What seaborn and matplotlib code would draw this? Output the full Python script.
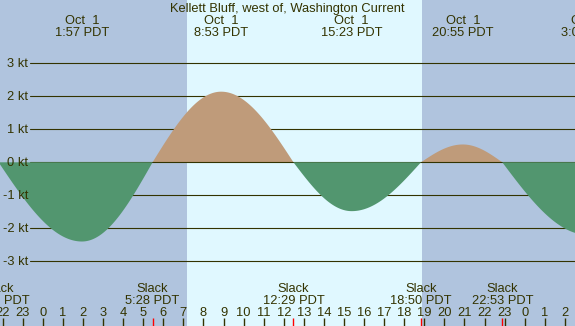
import numpy as np
import seaborn as sns
import matplotlib
matplotlib.use("Agg")
import matplotlib.pyplot as plt
import matplotlib.transforms as mtransforms

# tide events (day offset relative to Oct 1)
event_times = ["21:48", "1:57", "5:28", "8:53", "12:29", "15:23", "18:50", "20:55", "22:53", "3:09"]
event_days = [-1, 0, 0, 0, 0, 0, 0, 0, 0, 1]
event_dates = ["Sep 30", "Oct  1", "Oct  1", "Oct  1", "Oct  1", "Oct  1", "Oct  1", "Oct  1", "Oct  1", "Oct  2"]
event_speeds = [0.0, -2.40, 0.0, 2.14, 0.0, -1.48, 0.0, 0.54, 0.0, -2.20]
sunrise = "7:10"
sunset = "18:53"
speed_levels = [3, 2, 1, 0, -1, -2, -3]
title = "Kellett Bluff, west of, Washington Current"

W, H = 575, 326
x0_px, px_per_hour = 42.8, 20.08
y0_px, px_per_kt = 162.3, 33.0

night_col = "#b0c4de"
day_col = "#e0f8ff"
flood_col = "#bf9b7a"
ebb_col = "#52966f"
ink = "#333300"


def to_hours(s, day=0):
    h, m = s.split(":")
    return day * 24 + int(h) + int(m) / 60


ev_h = np.array([to_hours(s, d) for s, d in zip(event_times, event_days)])
ev_v = np.array(event_speeds)

sns.set_theme(style="white")
plt.rcParams["font.family"] = ["Liberation Sans", "DejaVu Sans"]
plt.rcParams["font.size"] = 9.3

fig = plt.figure(figsize=(W / 100, H / 100), dpi=100, facecolor=night_col)
ax = fig.add_axes([0, 0, 1, 1])
ax.set_facecolor(night_col)
xmin = -x0_px / px_per_hour
xmax = (W - x0_px) / px_per_hour
ymax = y0_px / px_per_kt
ymin = -(H - y0_px) / px_per_kt
ax.set_xlim(xmin, xmax)
ax.set_ylim(ymin, ymax)
ax.axis("off")

# daylight band
ax.axvspan(to_hours(sunrise), to_hours(sunset), color=day_col, lw=0, zorder=0)

# speed grid lines
ylab_tr = mtransforms.blended_transform_factory(ax.transAxes, ax.transData)
for lv in speed_levels:
    ax.axhline(lv, xmin=30 / W, xmax=1, color=ink, lw=0.8, zorder=1 if lv != 0 else 2.5)
    ax.text(28 / W, lv - 4 / px_per_kt, f"{lv} kt", transform=ylab_tr,
            ha="right", va="baseline", color=ink, zorder=5)

# current curve: quarter-sine shape between slack and max
t = np.linspace(xmin, xmax, 1500)
v = np.zeros_like(t)
for i in range(len(ev_h) - 1):
    a, b = ev_h[i], ev_h[i + 1]
    m = (t >= a) & (t <= b)
    f = (t[m] - a) / (b - a)
    if ev_v[i] == 0:
        v[m] = ev_v[i + 1] * np.sin(np.pi / 2 * f)
    else:
        v[m] = ev_v[i] * np.cos(np.pi / 2 * f)
ax.fill_between(t, 0, v, where=v >= 0, color=flood_col, lw=0, zorder=2, interpolate=True)
ax.fill_between(t, 0, v, where=v <= 0, color=ebb_col, lw=0, zorder=3, interpolate=True)

tr = mtransforms.blended_transform_factory(ax.transData, ax.transAxes)


def yf(py):
    return 1 - py / H


ax.text(0.5, yf(12), title, transform=ax.transAxes, ha="center", va="baseline", color=ink, zorder=5)

# event labels
for h, sp, d, s in zip(ev_h, ev_v, event_dates, event_times):
    if sp == 0:
        ax.text(h, yf(291.7), "Slack", transform=tr, ha="center", va="baseline", color=ink, zorder=5)
        ax.text(h, yf(304.3), f"{s} PDT", transform=tr, ha="center", va="baseline", color=ink, zorder=5)
    else:
        ax.text(h, yf(24), d, transform=tr, ha="center", va="baseline", color=ink, zorder=5)
        ax.text(h, yf(36), f"{s} PDT", transform=tr, ha="center", va="baseline", color=ink, zorder=5)

# hour ticks and labels
hours = np.arange(-2, 27)
for hr in hours:
    ax.text(hr, yf(315.7), str(hr % 24), transform=tr, ha="center", va="baseline", color=ink, zorder=5)
tick_h = 8 / H
sns.rugplot(x=hours[hours % 24 != 0], height=tick_h, color=ink, lw=1, ax=ax, clip_on=False)
sns.rugplot(x=hours[hours % 24 == 0], height=tick_h, color=ink, lw=3, ax=ax, clip_on=False)
sns.rugplot(x=ev_h[ev_v == 0], height=tick_h, color="red", lw=1, ax=ax, clip_on=False)
ax.set_xlim(xmin, xmax)
ax.set_ylim(ymin, ymax)

fig.savefig("out.png", dpi=100, facecolor=night_col)
